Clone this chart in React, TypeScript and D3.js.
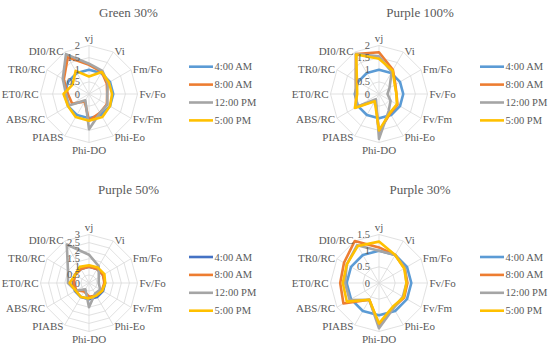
import React from "react";
import * as d3 from "d3";

const WIDTH = 550;
const HEIGHT = 347;
const RADIUS = 48.5;
const FONT = "Liberation Serif";
const TEXT_COLOR = "#595959";
const GRID_COLOR = "#D9D9D9";

const axes = ["vj", "Vi", "Fm/Fo", "Fv/Fo", "Fv/Fm", "Phi-Eo", "Phi-DO", "PIABS", "ABS/RC", "ET0/RC", "TR0/RC", "DI0/RC"];
const times = ["4:00 AM", "8:00 AM", "12:00 PM", "5:00 PM"];
const titles = ["Green 30%", "Purple 100%", "Purple 50%", "Purple 30%"];
const axisMax = [2, 2, 3, 1.5];

// Green 30%
const green30_0400 = [1, 1, 1, 1, 1, 1, 1, 1, 1, 1, 1, 1];
const green30_0800 = [1.2, 1.05, 0.85, 0.75, 0.85, 0.9, 1.1, 0.35, 0.8, 0.87, 1.2, 1.75];
const green30_1200 = [1.25, 1.1, 0.9, 0.75, 0.88, 0.9, 1.45, 0.3, 0.95, 0.95, 1.25, 1.9];
const green30_0500 = [0.72, 1.05, 0.95, 0.95, 1.0, 1.1, 1.1, 1.1, 1.0, 1.05, 0.78, 1.1];

// Purple 100%
const purple100_0400 = [1, 1, 1, 1, 1, 1, 1, 1, 1, 1, 1, 1];
const purple100_0800 = [1.72, 1.15, 0.78, 0.72, 0.88, 0.92, 1.55, 0.3, 1.1, 0.95, 1.1, 1.9];
const purple100_1200 = [1.55, 1.05, 0.5, 0.35, 0.55, 0.8, 1.85, 0.25, 1.05, 0.95, 1.1, 1.9];
const purple100_0500 = [1.45, 1.12, 0.75, 0.72, 0.85, 0.9, 1.5, 0.35, 1.15, 0.9, 1.05, 1.88];

// Purple 50%
const purple50_0400 = [1, 1, 1, 1, 1, 1, 1, 1, 1, 1, 1, 1];
const purple50_0800 = [1.0, 1.0, 1.0, 0.95, 0.92, 0.9, 0.85, 0.6, 0.9, 0.95, 1.0, 1.0];
const purple50_1200 = [1.75, 1.2, 0.7, 0.6, 0.8, 0.75, 1.5, 0.45, 0.95, 1.3, 1.5, 2.75];
const purple50_0500 = [1.1, 1.1, 1.1, 1.0, 0.95, 0.9, 0.95, 1.0, 0.95, 1.2, 1.0, 1.15];

// Purple 30%
const purple30_0400 = [1, 1, 1, 1, 1, 1, 1, 1, 1, 1, 1, 1];
const purple30_0800 = [1.1, 1.0, 0.92, 0.88, 0.9, 0.88, 1.3, 0.6, 1.27, 1.2, 1.25, 1.5];
const purple30_1200 = [1.0, 1.0, 0.92, 0.85, 0.85, 0.9, 1.4, 0.6, 1.05, 1.05, 1.15, 1.35];
const purple30_0500 = [1.28, 1.0, 0.9, 0.85, 0.88, 0.85, 1.25, 0.6, 1.15, 1.12, 1.15, 1.32];

const seriesByPanel = [
  [green30_0400, green30_0800, green30_1200, green30_0500],
  [purple100_0400, purple100_0800, purple100_1200, purple100_0500],
  [purple50_0400, purple50_0800, purple50_1200, purple50_0500],
  [purple30_0400, purple30_0800, purple30_1200, purple30_0500],
];

const COLORS = ["#5B9BD5", "#ED7D31", "#A5A5A5", "#FFC000"];
const COLORS_DARK = ["#4472C4", "#ED7D31", "#A5A5A5", "#FFC000"];

// where each small chart sits on the page
const SLOTS = [
  { cx: 89, cy: 94, titleX: 128.5, titleY: 17, legendX: 189, legendY: 66.7 },
  { cx: 379, cy: 94, titleX: 420, titleY: 17, legendX: 480, legendY: 66.7 },
  { cx: 89, cy: 283, titleX: 128.5, titleY: 194, legendX: 189, legendY: 257 },
  { cx: 379, cy: 283, titleX: 420, titleY: 194, legendX: 480, legendY: 257 },
];

const angle = d3
  .scalePoint<string>()
  .domain(axes)
  .range([0, (2 * Math.PI * (axes.length - 1)) / axes.length]);

function RadarPanel({ idx }: { idx: number }) {
  const slot = SLOTS[idx];
  const max = axisMax[idx];
  const palette = idx === 2 ? COLORS_DARK : COLORS;
  const r = d3.scaleLinear().domain([0, max]).range([0, RADIUS]);
  const ticks = d3.range(0, max + 1e-9, 0.5);

  const radial = d3
    .lineRadial<number>()
    .angle((_, i) => angle(axes[i]) as number)
    .radius((d) => r(d))
    .curve(d3.curveLinearClosed);

  return (
    <g>
      <text
        x={slot.titleX}
        y={slot.titleY}
        textAnchor="middle"
        fontSize={13}
        fontFamily={FONT}
        fill={TEXT_COLOR}
      >
        {titles[idx]}
      </text>
      <g transform={`translate(${slot.cx},${slot.cy})`}>
        {ticks.slice(1).map((t) => (
          <path
            key={t}
            d={radial(axes.map(() => t)) || ""}
            fill="none"
            stroke={GRID_COLOR}
            strokeWidth={0.8}
          />
        ))}
        {axes.map((a) => {
          const th = angle(a) as number;
          return (
            <line
              key={a}
              x1={0}
              y1={0}
              x2={RADIUS * Math.sin(th)}
              y2={-RADIUS * Math.cos(th)}
              stroke={GRID_COLOR}
              strokeWidth={0.8}
            />
          );
        })}
        {seriesByPanel[idx].map((vals, i) => (
          <path
            key={i}
            d={radial(vals) || ""}
            fill="none"
            stroke={palette[i]}
            strokeWidth={2.6}
            strokeLinejoin="round"
          />
        ))}
        {ticks.map((t) => (
          <text
            key={t}
            x={-9}
            y={-r(t)}
            textAnchor="end"
            dominantBaseline="central"
            fontSize={10.5}
            fontFamily={FONT}
            fill={TEXT_COLOR}
          >
            {t}
          </text>
        ))}
        {axes.map((a) => {
          const th = angle(a) as number;
          const s = Math.sin(th);
          const c = Math.cos(th);
          if (Math.abs(s) < 0.01) {
            const top = c > 0;
            return (
              <text
                key={a}
                x={0}
                y={top ? -(RADIUS + 4) : RADIUS + 11}
                textAnchor="middle"
                fontSize={11}
                fontFamily={FONT}
                fill={TEXT_COLOR}
              >
                {a}
              </text>
            );
          }
          const d = RADIUS + 1.5;
          return (
            <text
              key={a}
              x={d * s + (s > 0 ? 0.5 : -0.5)}
              y={-d * c}
              textAnchor={s > 0 ? "start" : "end"}
              dominantBaseline="central"
              fontSize={11}
              fontFamily={FONT}
              fill={TEXT_COLOR}
            >
              {a}
            </text>
          );
        })}
      </g>
      <g transform={`translate(${slot.legendX},${slot.legendY})`}>
        {times.map((t, i) => (
          <g key={t} transform={`translate(0,${i * 17.9})`}>
            <line x1={0} x2={24} y1={0} y2={0} stroke={palette[i]} strokeWidth={2.6} />
            <text
              x={25.5}
              y={0}
              dominantBaseline="central"
              fontSize={10.5}
              fontFamily={FONT}
              fill={TEXT_COLOR}
            >
              {t}
            </text>
          </g>
        ))}
      </g>
    </g>
  );
}

export default function App() {
  return (
    <svg
      width={WIDTH}
      height={HEIGHT}
      style={{ position: "absolute", left: 0, top: 0, background: "#fff" }}
    >
      {titles.map((_, i) => (
        <RadarPanel key={i} idx={i} />
      ))}
    </svg>
  );
}
